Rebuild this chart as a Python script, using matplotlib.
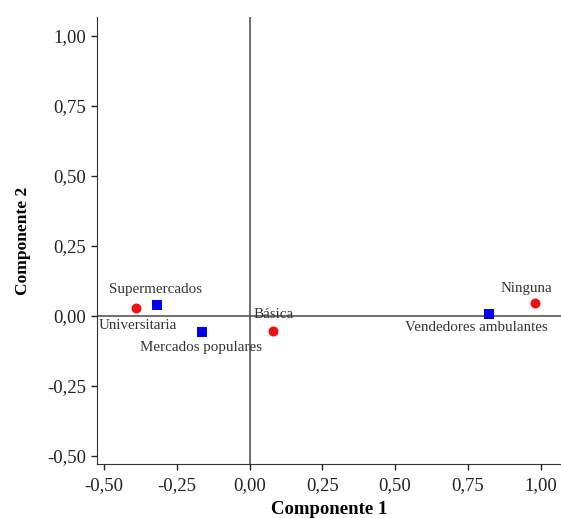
import matplotlib.pyplot as plt
from matplotlib.ticker import FuncFormatter

plt.rcParams['font.family'] = ['Liberation Serif', 'DejaVu Serif']

# Categorías y coordenadas (componente 1, componente 2)
etiquetas = ['Universitaria', 'Básica', 'Ninguna',
             'Supermercados', 'Mercados populares', 'Vendedores ambulantes']
comp1 = [-0.390, 0.082, 0.979, -0.319, -0.162, 0.823]
comp2 = [0.027, -0.053, 0.047, 0.039, -0.056, 0.007]
grupo = ['educ', 'educ', 'educ', 'lugar', 'lugar', 'lugar']

# desplazamiento de las etiquetas (puntos)
offsets = [(1, -12), (0, 12), (-6, 10.5), (-1, 11.5), (-1, -11.5), (-9, -9.5)]

xticks = [-0.50, -0.25, 0.00, 0.25, 0.50, 0.75, 1.00]
yticks = [-0.50, -0.25, 0.00, 0.25, 0.50, 0.75, 1.00]

fig = plt.figure(figsize=(5.61, 5.18), dpi=100)
ax = fig.add_axes([0.1724, 0.1037, 0.8276, 0.8641])

ax.axvline(0, color='#555555', lw=1.2, zorder=1)
ax.axhline(0, color='#555555', lw=1.2, zorder=1)

for x, y, g in zip(comp1, comp2, grupo):
    if g == 'educ':
        ax.scatter(x, y, marker='o', s=52, color='#ee1111', zorder=3, linewidths=0)
    else:
        ax.scatter(x, y, marker='s', s=44, color='#0000ee', zorder=3, linewidths=0)

for lab, x, y, off in zip(etiquetas, comp1, comp2, offsets):
    ax.annotate(lab, (x, y), xytext=off, textcoords='offset points',
                ha='center', va='center', fontsize=10.8, color='#333333', zorder=4)

ax.set_xlim(-0.525, 1.070)
ax.set_ylim(-0.530, 1.069)
ax.set_xticks(xticks)
ax.set_yticks(yticks)
fmt = FuncFormatter(lambda v, p: f'{v:.2f}'.replace('.', ','))
ax.xaxis.set_major_formatter(fmt)
ax.yaxis.set_major_formatter(fmt)
ax.tick_params(labelsize=13.5, direction='out', length=4.5, width=1,
               colors='#222222')
ax.tick_params(axis='x', pad=4.5)
ax.tick_params(axis='y', pad=3)

ax.spines['top'].set_visible(False)
ax.spines['right'].set_visible(False)
ax.spines['left'].set_color('#333333')
ax.spines['bottom'].set_color('#333333')

ax.set_xlabel('Componente 1', fontsize=13.5, fontweight='bold', labelpad=5.5)
ax.set_ylabel('Componente 2', fontsize=12.5, fontweight='bold', labelpad=12)

fig.savefig('out.png', dpi=100)
